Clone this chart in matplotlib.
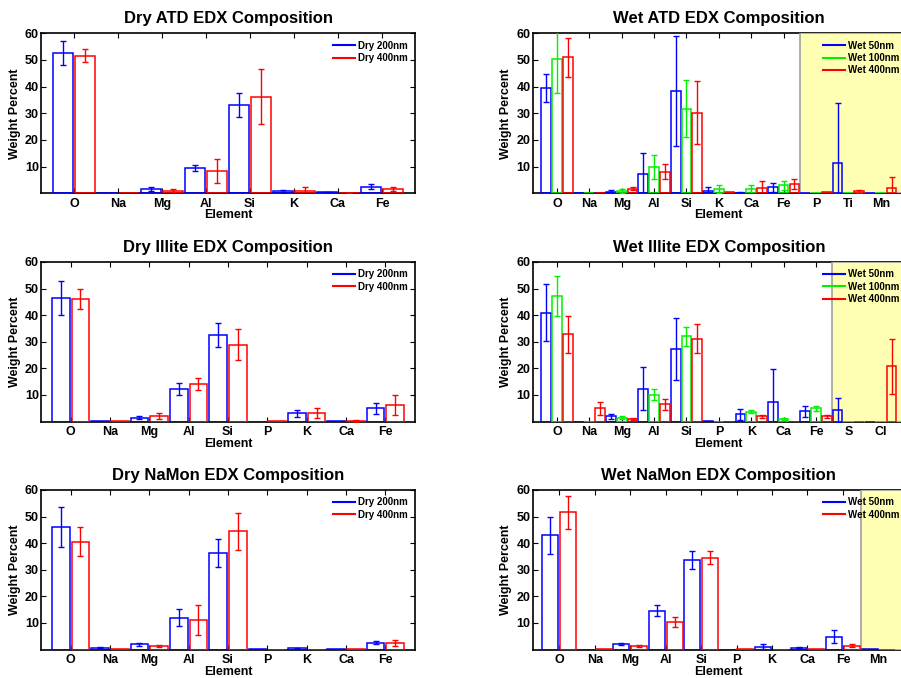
import matplotlib
matplotlib.use('Agg')
import matplotlib.pyplot as plt
import matplotlib.patches as patches
import numpy as np

plt.rcParams['font.family'] = ['Liberation Sans', 'DejaVu Sans']
plt.rcParams['font.weight'] = 'bold'
plt.rcParams['axes.titleweight'] = 'bold'
plt.rcParams['axes.labelweight'] = 'bold'

# Element lists for each panel
dry_atd_elements = ['O', 'Na', 'Mg', 'Al', 'Si', 'K', 'Ca', 'Fe']
wet_atd_elements = ['O', 'Na', 'Mg', 'Al', 'Si', 'K', 'Ca', 'Fe', 'P', 'Ti', 'Mn']
dry_illite_elements = ['O', 'Na', 'Mg', 'Al', 'Si', 'P', 'K', 'Ca', 'Fe']
wet_illite_elements = ['O', 'Na', 'Mg', 'Al', 'Si', 'P', 'K', 'Ca', 'Fe', 'S', 'Cl']
dry_namon_elements = ['O', 'Na', 'Mg', 'Al', 'Si', 'P', 'K', 'Ca', 'Fe']
wet_namon_elements = ['O', 'Na', 'Mg', 'Al', 'Si', 'P', 'K', 'Ca', 'Fe', 'Mn']

# Dry ATD
dry_atd_200 = [52.5, 0.2, 1.5, 9.4, 33.0, 0.75, 0.4, 2.5]
dry_atd_200_err = [4.5, 0, 0.7, 1.1, 4.5, 0.5, 0.2, 0.9]
dry_atd_400 = [51.6, 0.1, 1.0, 8.5, 36.3, 0.75, 0.2, 1.5]
dry_atd_400_err = [2.5, 0, 0.5, 4.5, 10.2, 1.7, 0.1, 0.8]

# Wet ATD
wet_atd_50 = [39.5, 0.2, 0.6, 7.25, 38.25, 1.0, 0.3, 2.25, 0, 11.25, 0]
wet_atd_50_err = [5.4, 0, 0.6, 8.0, 20.6, 1.5, 0.2, 1.8, 0, 22.5, 0]
wet_atd_100 = [50.25, 0.3, 1.0, 9.75, 31.75, 1.8, 1.5, 3.1, 0.2, 0.2, 0]
wet_atd_100_err = [12.5, 0, 0.8, 4.5, 10.75, 1.5, 1.7, 1.7, 0, 0, 0]
wet_atd_400 = [51.0, 0, 1.75, 8.1, 30.25, 0.4, 1.9, 3.6, 0.5, 0.7, 2.1]
wet_atd_400_err = [7.2, 0, 0.5, 2.9, 11.75, 0, 2.8, 1.8, 0, 0.6, 3.9]

# Dry Illite
dry_illite_200 = [46.5, 0.1, 1.5, 12.15, 32.5, 0, 3.1, 0.1, 4.9]
dry_illite_200_err = [6.4, 0, 0.5, 2.3, 4.4, 0, 1.25, 0, 2.0]
dry_illite_400 = [46.0, 0.1, 2.1, 14.0, 28.9, 0.1, 3.1, 0.2, 6.1]
dry_illite_400_err = [3.75, 0, 1.0, 2.3, 5.9, 0, 1.9, 0.2, 3.7]

# Wet Illite
wet_illite_50 = [41.0, 0, 1.9, 12.4, 27.2, 0.1, 2.75, 7.5, 3.9, 4.25, 0]
wet_illite_50_err = [10.8, 0, 0.8, 8.0, 11.6, 0, 2.0, 12.4, 2.1, 4.6, 0]
wet_illite_100 = [47.25, 0, 1.5, 10.15, 32.0, 0, 3.75, 0.9, 4.9, 0, 0]
wet_illite_100_err = [7.5, 0, 0.6, 2.2, 3.6, 0, 0.6, 0.5, 1.0, 0, 0]
wet_illite_400 = [32.8, 4.9, 0.8, 6.5, 31.2, 0, 1.9, 0, 1.9, 0, 20.7]
wet_illite_400_err = [6.9, 2.5, 0.4, 2.1, 5.6, 0, 0.7, 0, 0.5, 0, 10.5]

# Dry NaMon
dry_namon_200 = [46.2, 0.7, 1.95, 12.0, 36.25, 0.2, 0.4, 0.3, 2.6]
dry_namon_200_err = [7.5, 0.3, 0.5, 3.1, 5.25, 0, 0.3, 0, 0.6]
dry_namon_400 = [40.5, 0.2, 1.3, 11.0, 44.5, 0, 0, 0.2, 2.5]
dry_namon_400_err = [5.5, 0, 0.5, 5.6, 7.0, 0, 0, 0, 1.2]

# Wet NaMon
wet_namon_50 = [43.0, 0, 2.1, 14.65, 33.6, 0, 1.1, 0.7, 4.85, 0.3]
wet_namon_50_err = [6.9, 0, 0.5, 2.0, 3.4, 0, 1.0, 0.3, 2.3, 0]
wet_namon_400 = [51.6, 0.3, 1.2, 10.4, 34.6, 0.3, 0, 0.3, 1.5, 0]
wet_namon_400_err = [6.1, 0, 0.4, 1.75, 2.4, 0, 0, 0, 0.7, 0]

BLUE, GREEN, RED = '#0000ff', '#00f000', '#ff0000'
W, H = 901, 678


def px_axes(fig, left, top, right, bottom):
    return fig.add_axes([left / W, 1 - bottom / H, (right - left) / W, (bottom - top) / H])


def draw_panel(ax, title, elements, series, labels, colors, shade_from=None):
    n = len(series)
    slot = 1.0 / n
    x = np.arange(1, len(elements) + 1)
    if shade_from is not None:
        ax.add_patch(patches.Rectangle((shade_from, 0), len(elements) + 2 - shade_from, 60,
                                       facecolor='#ffffb4', edgecolor='#a0a0a0', lw=1.2, zorder=2.6))
    for i, ((vals, errs), lab, col) in enumerate(zip(series, labels, colors)):
        pos = x + (i - (n - 1) / 2) * slot
        vals = np.array(vals)
        errs = np.array(errs)
        ax.bar(pos, vals, width=0.9 * slot, facecolor='none', edgecolor=col, lw=1.1, zorder=3)
        m = errs > 0
        ax.errorbar(pos[m], vals[m], yerr=errs[m], fmt='none', ecolor=col, elinewidth=1.0,
                    capsize=2.5, capthick=1.0, zorder=3.1)
        ax.plot([], [], color=col, lw=1.5, label=lab)

    ax.set_xlim(0.25, len(elements) + 0.75)
    ax.set_ylim(0, 60)
    ax.set_xticks(x)
    ax.set_xticklabels(elements)
    ax.set_yticks([10, 20, 30, 40, 50, 60])
    ax.tick_params(direction='in', top=True, right=True, length=3.5, width=0.8, labelsize=9)
    ax.tick_params(axis='x', pad=3.5)
    ax.tick_params(axis='y', pad=1.5)
    for s in ax.spines.values():
        s.set_linewidth(1.2)
    ax.set_title(title, fontsize=12, pad=7.5)
    ax.set_xlabel('Element', fontsize=9, labelpad=-0.5)
    ax.set_ylabel('Weight Percent', fontsize=9, labelpad=3)
    leg = ax.legend(loc='upper left', bbox_to_anchor=(0.78, 0.955), frameon=False, fontsize=7,
                    borderpad=0, borderaxespad=0, handlelength=2.3, handletextpad=0.3,
                    labelspacing=0.25)
    leg.set_zorder(5)


fig = plt.figure(figsize=(W / 100, H / 100), dpi=100)

rows = [(33.3, 193.3), (262, 421.5), (490, 649.5)]
left_col = (41, 415)
right_col = (532.7, 905)

ax1 = px_axes(fig, left_col[0], rows[0][0], left_col[1], rows[0][1])
draw_panel(ax1, 'Dry ATD EDX Composition', dry_atd_elements,
           [(dry_atd_200, dry_atd_200_err), (dry_atd_400, dry_atd_400_err)],
           ['Dry 200nm', 'Dry 400nm'], [BLUE, RED])

ax2 = px_axes(fig, right_col[0], rows[0][0], right_col[1], rows[0][1])
draw_panel(ax2, 'Wet ATD EDX Composition', wet_atd_elements,
           [(wet_atd_50, wet_atd_50_err), (wet_atd_100, wet_atd_100_err), (wet_atd_400, wet_atd_400_err)],
           ['Wet 50nm', 'Wet 100nm', 'Wet 400nm'], [BLUE, GREEN, RED], shade_from=8.5)

ax3 = px_axes(fig, left_col[0], rows[1][0], left_col[1], rows[1][1])
draw_panel(ax3, 'Dry Illite EDX Composition', dry_illite_elements,
           [(dry_illite_200, dry_illite_200_err), (dry_illite_400, dry_illite_400_err)],
           ['Dry 200nm', 'Dry 400nm'], [BLUE, RED])

ax4 = px_axes(fig, right_col[0], rows[1][0], right_col[1], rows[1][1])
draw_panel(ax4, 'Wet Illite EDX Composition', wet_illite_elements,
           [(wet_illite_50, wet_illite_50_err), (wet_illite_100, wet_illite_100_err),
            (wet_illite_400, wet_illite_400_err)],
           ['Wet 50nm', 'Wet 100nm', 'Wet 400nm'], [BLUE, GREEN, RED], shade_from=9.5)

ax5 = px_axes(fig, left_col[0], rows[2][0], left_col[1], rows[2][1])
draw_panel(ax5, 'Dry NaMon EDX Composition', dry_namon_elements,
           [(dry_namon_200, dry_namon_200_err), (dry_namon_400, dry_namon_400_err)],
           ['Dry 200nm', 'Dry 400nm'], [BLUE, RED])

ax6 = px_axes(fig, right_col[0], rows[2][0], right_col[1], rows[2][1])
draw_panel(ax6, 'Wet NaMon EDX Composition', wet_namon_elements,
           [(wet_namon_50, wet_namon_50_err), (wet_namon_400, wet_namon_400_err)],
           ['Wet 50nm', 'Wet 400nm'], [BLUE, RED], shade_from=9.5)

fig.savefig('out.png', dpi=100)
